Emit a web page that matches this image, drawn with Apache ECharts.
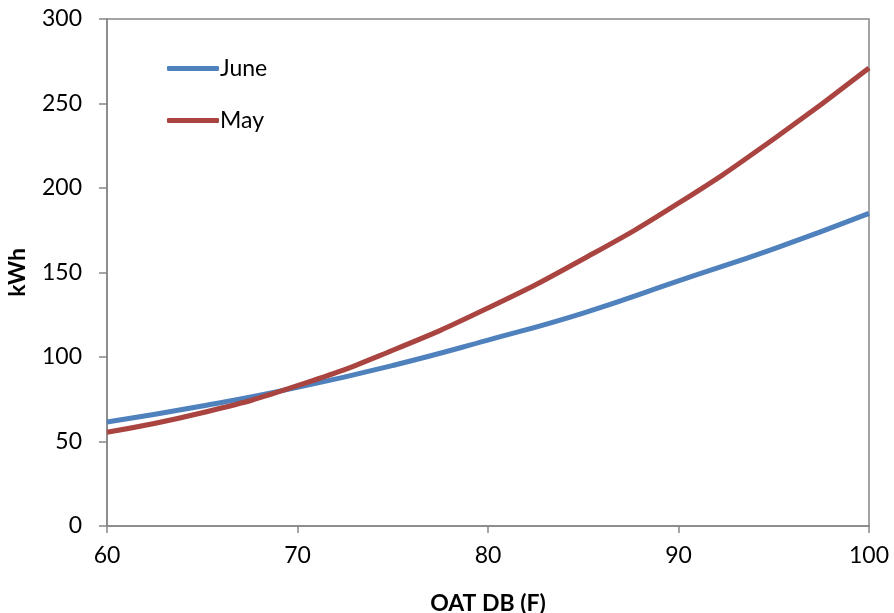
<!DOCTYPE html>
<html><head><meta charset="utf-8">
<script src="https://cdn.jsdelivr.net/npm/echarts@6/dist/echarts.min.js"></script>
<style>html,body{margin:0;padding:0;background:#fff}#c{width:894px;height:613px}</style>
</head><body><div id="c"></div>
<script>
const temps = [60, 65, 70, 75, 80, 85, 90, 95, 100];
const june = [61.5, 71, 82, 95, 110, 126, 145, 164, 185];
const may = [55.5, 67, 83, 104, 129, 158, 191, 229, 271];
const seriesNames = ['June', 'May'];
const xTitle = 'OAT DB (F)';
const yTitle = 'kWh';

const font = 'Lato, "Open Sans", sans-serif';
const axisGray = '#868686';
const chart = echarts.init(document.getElementById('c'));
chart.setOption({
  animation: false,
  grid: {left: 107, right: 25, top: 19, bottom: 87, show: true, borderColor: axisGray, borderWidth: 1.5,
         containLabel: false, outerBoundsMode: 'none'},
  legend: {
    orient: 'vertical', left: 162, top: 52, itemWidth: 52, itemHeight: 5, itemGap: 29,
    icon: 'roundRect',
    textStyle: {fontFamily: font, fontSize: 23, color: '#000', lineHeight: 22, padding: [0,0,0,-4]},
    data: seriesNames
  },
  xAxis: {
    type: 'value', min: 60, max: 100, interval: 10,
    name: xTitle, nameLocation: 'middle', nameGap: 66,
    nameTextStyle: {fontFamily: font, fontSize: 23, fontWeight: 'bold', color: '#000'},
    axisLine: {lineStyle: {color: axisGray, width: 1.5}},
    axisTick: {length: 7, lineStyle: {color: axisGray, width: 1.5}},
    axisLabel: {fontFamily: font, fontSize: 23, color: '#000', margin: 18},
    splitLine: {show: false}
  },
  yAxis: {
    type: 'value', min: 0, max: 300, interval: 50,
    name: yTitle, nameLocation: 'middle', nameGap: 78,
    nameTextStyle: {fontFamily: font, fontSize: 23, fontWeight: 'bold', color: '#000'},
    axisLine: {show: true, lineStyle: {color: axisGray, width: 1.5}},
    axisTick: {show: true, length: 8, lineStyle: {color: axisGray, width: 1.5}},
    axisLabel: {fontFamily: font, fontSize: 23, color: '#000', margin: 25},
    splitLine: {show: false}
  },
  series: [
    {name: seriesNames[0], type: 'line', smooth: true, showSymbol: false,
     data: temps.map((t, i) => [t, june[i]]), color: '#4F81BD', lineStyle: {width: 5}},
    {name: seriesNames[1], type: 'line', smooth: true, showSymbol: false,
     data: temps.map((t, i) => [t, may[i]]), color: '#AA4441', lineStyle: {width: 5}}
  ]
});
</script></body></html>
